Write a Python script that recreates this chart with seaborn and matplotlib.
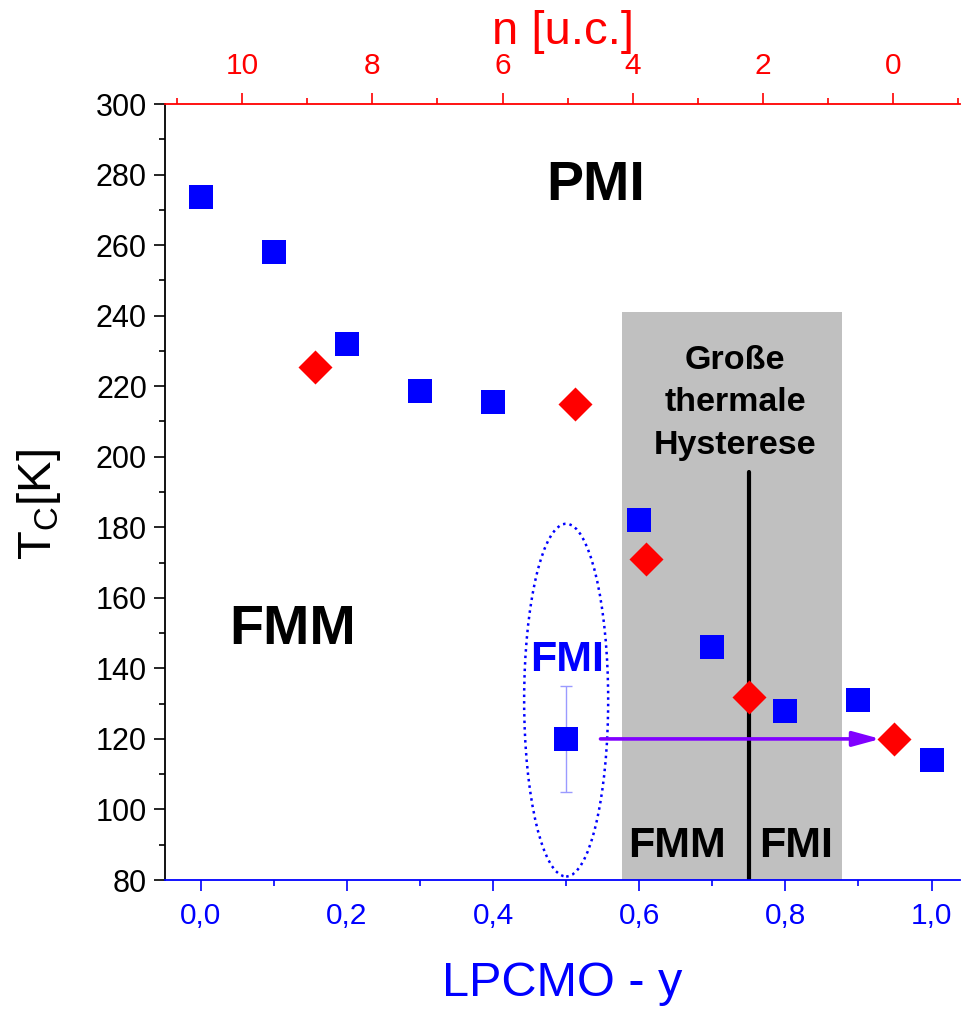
import matplotlib
matplotlib.use("Agg")
import matplotlib.pyplot as plt
import matplotlib.ticker as mticker
from matplotlib.patches import Ellipse, Rectangle
import seaborn as sns

# LPCMO fraction y and Curie temperatures (K)
sq_y = [0.0, 0.1, 0.2, 0.3, 0.4, 0.5, 0.6, 0.7, 0.8, 0.9, 1.0]
sq_tc = [273.5, 258.0, 232.0, 218.5, 215.5, 120.0, 182.0, 146.0, 128.0, 131.0, 114.0]

# superlattice samples (red diamonds)
dm_y = [0.156, 0.512, 0.609, 0.750, 0.948]
dm_tc = [225.5, 215.0, 171.0, 132.0, 120.0]

# uncertainty of the FMI sample at y = 0.5
fmi_y = 0.5
fmi_tc = 120.0
fmi_err = 15.0

# hysteresis region
hyst_y = [0.577, 0.878]
hyst_tc_top = 241.0
boundary_y = 0.75
boundary_tc_top = 195.7

# arrow from FMI sample to the superlattice point
arrow_from = (0.547, 120.0)
arrow_to = (0.930, 120.0)

# top axis: n [u.c.] -> y  (y = n0_pos - n_step * n)
n0_pos = 0.9476
n_step = 0.0891

sns.set_style("ticks")
plt.rcParams["font.family"] = ["Liberation Sans", "DejaVu Sans"]
plt.rcParams["mathtext.default"] = "regular"
plt.rcParams["text.color"] = "black"
plt.rcParams["axes.labelcolor"] = "black"

BLUE = "#0000ff"
RED = "#ff0000"

fig = plt.figure(figsize=(9.61, 10.09), dpi=100)
ax = fig.add_axes([165 / 961, 129 / 1009, 795 / 961, 776 / 1009])

xlim = (-0.049, 1.039)
ax.set_xlim(*xlim)
ax.set_ylim(80, 300)

# shaded hysteresis band and phase boundary
ax.add_patch(Rectangle((hyst_y[0], 80), hyst_y[1] - hyst_y[0], hyst_tc_top - 80,
                       facecolor="#c0c0c0", edgecolor="none", zorder=1))
ax.plot([boundary_y, boundary_y], [80, boundary_tc_top], color="black",
        lw=3.0, solid_capstyle="round", zorder=2)

# dotted ellipse around the FMI sample
ax.add_patch(Ellipse((0.5, 131.0), 0.115, 100.0, fill=False, edgecolor=BLUE,
                     linestyle=(0, (1, 1.6)), lw=1.8, zorder=3))

# error bar
ax.errorbar([fmi_y], [fmi_tc], yerr=[fmi_err], fmt="none", ecolor="#9a9aff",
            elinewidth=1.0, capsize=4, capthick=1.0, zorder=4)

# arrow
ax.annotate("", xy=arrow_to, xytext=arrow_from,
            arrowprops=dict(arrowstyle="-|>,head_length=1.65,head_width=0.45",
                            mutation_scale=10, color="#8000ff", lw=2.6,
                            shrinkA=0, shrinkB=0),
            zorder=6)

sns.scatterplot(x=sq_y, y=sq_tc, marker="s", s=300, color=BLUE, linewidth=0,
                ax=ax, zorder=7)
sns.scatterplot(x=dm_y, y=dm_tc, marker="D", s=300, color=RED, linewidth=0,
                ax=ax, zorder=8)

# phase labels
ax.text(0.54, 276.8, "PMI", fontsize=40, fontweight="bold", ha="center",
        va="center", zorder=9)
ax.text(0.125, 150.9, "FMM", fontsize=40, fontweight="bold", ha="center",
        va="center", zorder=9)
ax.text(0.5015, 142.4, "FMI", fontsize=31, fontweight="bold", color=BLUE,
        ha="center", va="center", zorder=9)
ax.text(0.652, 89.6, "FMM", fontsize=31, fontweight="bold", ha="center",
        va="center", zorder=9)
ax.text(0.815, 89.6, "FMI", fontsize=31, fontweight="bold", ha="center",
        va="center", zorder=9)
ax.text(0.731, 215.3, "Große\nthermale\nHysterese", fontsize=24.5,
        fontweight="bold", ha="center", va="center", linespacing=1.47,
        zorder=9)

# bottom axis
ax.xaxis.set_major_locator(mticker.MultipleLocator(0.2))
ax.xaxis.set_minor_locator(mticker.MultipleLocator(0.1))
ax.xaxis.set_major_formatter(mticker.FuncFormatter(
    lambda v, p: f"{v:.1f}".replace(".", ",")))
ax.tick_params(axis="x", which="both", colors=BLUE, direction="out",
               labelsize=21.5, pad=8)
ax.tick_params(axis="x", which="major", length=8, width=1.2)
ax.tick_params(axis="x", which="minor", length=4, width=1.2)
ax.set_xlabel("LPCMO - y", fontsize=35, color=BLUE, labelpad=22)

# left axis
ax.yaxis.set_major_locator(mticker.MultipleLocator(20))
ax.yaxis.set_minor_locator(mticker.MultipleLocator(10))
ax.tick_params(axis="y", which="both", colors="black", direction="out",
               labelsize=22, pad=5)
ax.tick_params(axis="y", which="major", length=8, width=1.2)
ax.tick_params(axis="y", which="minor", length=4, width=1.2)
ax.set_ylabel("T$_C$[K]", fontsize=34)
ax.yaxis.set_label_coords(-0.128, 0.484)

ax.spines["bottom"].set_color(BLUE)
ax.spines["left"].set_color("black")
for s in ("bottom", "left"):
    ax.spines[s].set_linewidth(1.3)
ax.spines["top"].set_visible(False)
ax.spines["right"].set_visible(False)

# top axis in unit cells
ax2 = ax.twiny()
ax2.set_xlim((n0_pos - xlim[0]) / n_step, (n0_pos - xlim[1]) / n_step)
ax2.xaxis.set_major_locator(mticker.MultipleLocator(2))
ax2.xaxis.set_minor_locator(mticker.MultipleLocator(1))
ax2.tick_params(axis="x", which="both", colors=RED, direction="out",
                labelsize=21.5, pad=9)
ax2.tick_params(axis="x", which="major", length=8, width=1.2)
ax2.tick_params(axis="x", which="minor", length=4, width=1.2)
ax2.set_xlabel("n [u.c.]", fontsize=34, color=RED, labelpad=6)
for s in ("bottom", "left", "right"):
    ax2.spines[s].set_visible(False)
ax2.spines["top"].set_color(RED)
ax2.spines["top"].set_linewidth(1.3)

fig.savefig("out.png", dpi=100)
